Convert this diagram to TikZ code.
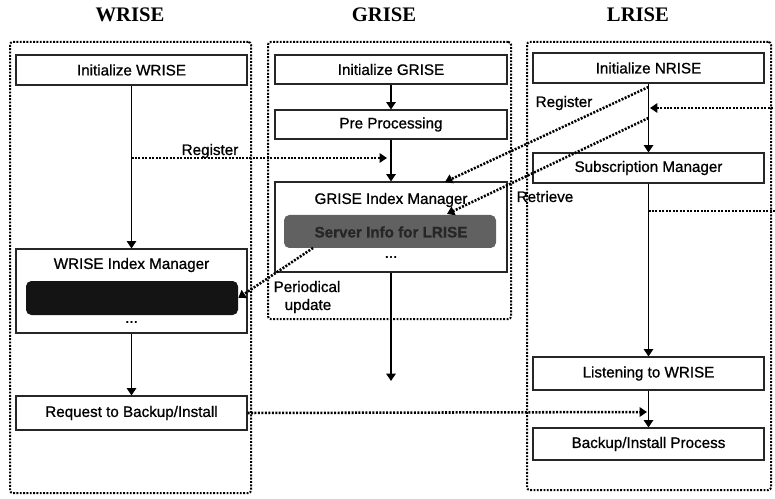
\documentclass[tikz,border=0pt]{standalone}
\usepackage{fontspec}
\setmainfont{Liberation Sans}[FakeBold=0.9]
\newfontfamily\titlefont{Liberation Serif}
\usetikzlibrary{arrows.meta,fit}

\begin{document}
\begin{tikzpicture}[x=0.75pt,y=-0.75pt,
  boxfont/.style={font=\fontsize{11.4}{13.5}\selectfont},
  box/.style={draw=black!85, line width=0.8pt, inner sep=0pt, fit={#1}},
  txt/.style={label={[boxfont, inner sep=0pt]center:#1}},
  frame/.style={draw, line width=1.5pt, dash pattern=on 1.4pt off 1.1pt,
                rounded corners=2pt, inner sep=0pt, fit={#1}},
  bar/.style={rounded corners=4pt, inner sep=0pt, fit={#1}},
  heading/.style={font=\titlefont\bfseries\fontsize{15.5}{18}\selectfont},
  lbl/.style={boxfont, anchor=base, inner sep=0pt},
  tip/.style={-{Triangle[width=7pt,length=5.5pt]}},
  arr/.style={line width=1.3pt, tip},
  dots/.style={line width=1.9pt, dash pattern=on 1.5pt off 1.1pt},
  darr/.style={dots, tip}]

\fill[white] (0,0) rectangle (775,499);
\useasboundingbox (0,0) rectangle (775,499);

% column headings
\node[heading] (hW) at (130,15) {WRISE};
\node[heading] (hG) at (384,15) {GRISE};
\node[heading] (hL) at (638,15) {LRISE};

% dotted column frames
\node[frame={(10,42)(251,493)}] (fW) {};
\node[frame={(268,42)(511,319)}] (fG) {};
\node[frame={(527,42)(771,490)}] (fL) {};

% WRISE column
\node[box={(16,55)(247,85)}, txt={Initialize WRISE}] (initW) {};
\node[box={(16,249)(247,333)}] (idxW) {};
\node[boxfont] (idxWt) at (131.5,265) {WRISE Index Manager};
\node[bar={(26,281)(238,315)}, fill=black!92] (barW) {};
\node[boxfont] (idxWd) at (131.5,322) {...};
\node[box={(16,396)(247,430)}, txt={Request to Backup/Install}] (reqW) {};

% GRISE column
\node[box={(275,55)(507,84)}, txt={Initialize GRISE}] (initG) {};
\node[box={(275,110)(507,139)}, txt={Pre Processing}] (preG) {};
\node[box={(275,182)(507,272)}] (idxG) {};
\node[boxfont] (idxGt) at (391,200) {GRISE Index Manager};
\node[bar={(284,215)(496,248)}, fill=black!62] (barG) {};
\node[font=\bfseries\fontsize{11.4}{13.5}\selectfont, text=black!85] (barGt)
  at (391,232) {Server Info for LRISE};
\node[boxfont] (idxGd) at (391,257) {...};
\coordinate (gOut) at (391,381);

% LRISE column
\node[box={(533,53)(764,83)}, txt={Initialize NRISE}] (initL) {};
\node[box={(533,153)(764,183)}, txt={Subscription Manager}] (subL) {};
\node[box={(533,357)(764,390)}, txt={Listening to WRISE}] (lisL) {};
\node[box={(533,428)(764,460)}, txt={Backup/Install Process}] (bakL) {};

% solid flow arrows
\draw[arr] (initW) -- (idxW);
\draw[arr] (idxW) -- (reqW);
\draw[arr] (initG) -- (preG);
\draw[arr] (preG) -- (idxG);
\draw[arr] (idxG) -- (gOut);
\draw[arr] (initL) -- (subL);
\draw[arr] (subL) -- (lisL);
\draw[arr] (lisL) -- (bakL);

% end points of the dotted messages
\coordinate (rgW)  at (131.5,158);
\coordinate (rgG)  at (387,158);
\coordinate (rgL)  at (648.5,87);
\coordinate (rgLe) at (445,182);
\coordinate (rtL)  at (648.5,118);
\coordinate (rtLe) at (447,214);
\coordinate (inR)  at (773,108);
\coordinate (inRe) at (650,108);
\coordinate (outR) at (648.5,211);
\coordinate (outRe) at (775,211);
\coordinate (puG)  at (313,248);
\coordinate (bkIn) at (647,412);

% dotted messages
\draw[darr] (rgW) -- (rgG);
\draw[darr] (rgL) -- (rgLe);
\draw[darr] (rtL) -- (rtLe);
\draw[darr] (inR) -- (inRe);
\draw[dots] (outR) -- (outRe);
\draw[darr] (puG) -- (barW.east);
\draw[darr] (reqW.east) -- (bkIn);

% message labels
\node[lbl] (lRgW) at (210,155) {Register};
\node[lbl] (lRgL) at (564,107) {Register};
\node[lbl] (lRt)  at (545,202) {Retrieve};
\node[lbl] (lPu1) at (307,292) {Periodical};
\node[lbl] (lPu2) at (308,310) {update};

\end{tikzpicture}
\end{document}
